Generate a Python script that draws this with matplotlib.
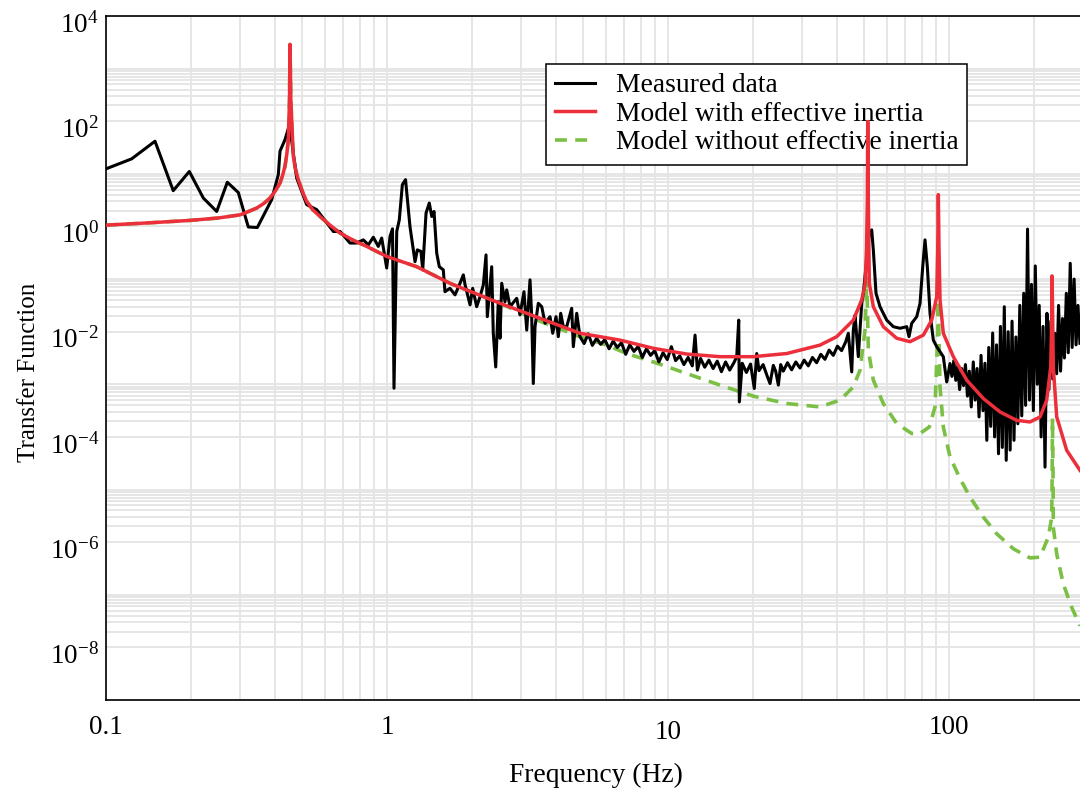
import matplotlib
matplotlib.use("Agg")
import matplotlib.pyplot as plt
import matplotlib.transforms as mtransforms
from matplotlib.ticker import FixedLocator, LogLocator, NullFormatter
import numpy as np

plt.rcParams['font.family'] = ['Liberation Serif', 'DejaVu Serif']
plt.rcParams['mathtext.fontset'] = 'custom'
plt.rcParams['mathtext.rm'] = 'Liberation Serif'
plt.rcParams['mathtext.it'] = 'Liberation Serif:italic'

# Measured transfer function: frequency (Hz) and magnitude (dB, 20*log10)
freq_measured = [
    0.1, 0.1234, 0.1494, 0.1735, 0.1979, 0.2220, 0.2477, 0.2702, 0.2957, 0.3209,
    0.3455, 0.3887, 0.4104, 0.4161, 0.4335, 0.4498, 0.4771, 0.5178, 0.5621, 0.6442,
    0.6805, 0.7385, 0.7800, 0.8236, 0.8581, 0.8939, 0.9311, 0.9575, 0.9975, 1.025,
    1.046, 1.059, 1.083, 1.106, 1.134, 1.164, 1.207, 1.258, 1.282, 1.321,
    1.340, 1.377, 1.414, 1.443, 1.470, 1.503, 1.535, 1.586, 1.608, 1.675,
    1.746, 1.819, 1.869, 1.896, 1.975, 2.018, 2.085, 2.143, 2.202, 2.251,
    2.275, 2.358, 2.389, 2.437, 2.489, 2.524, 2.560, 2.630, 2.667, 2.740,
    2.894, 2.973, 3.072, 3.142, 3.228, 3.273, 3.316, 3.363, 3.455, 3.553,
    3.651, 3.803, 3.888, 3.994, 4.070, 4.151, 4.240, 4.360, 4.542, 4.603,
    4.733, 4.862, 5.03, 5.20, 5.38, 5.57, 5.76, 5.96, 6.17, 6.38,
    6.60, 6.83, 7.07, 7.31, 7.57, 7.83, 8.10, 8.38, 8.67, 8.97,
    9.28, 9.60, 9.94, 10.28, 10.64, 11.01, 11.39, 11.79, 12.20, 12.48,
    12.72, 13.06, 13.51, 13.98, 14.47, 14.97, 15.49, 16.03, 16.58, 17.16,
    17.56, 17.85, 17.94, 18.37, 19.01, 19.67, 20.28, 20.69, 21.07, 21.80,
    22.56, 23.07, 23.70, 24.16, 24.70, 25.18, 25.72, 26.62, 27.54, 28.50,
    29.49, 30.51, 31.57, 32.66, 33.80, 34.97, 36.18, 37.44, 38.74, 40.08,
    41.47, 42.91, 43.82, 45.06, 45.65, 46.30, 47.56, 48.90, 49.55, 50.66,
    52.05, 53.08, 53.78, 54.98, 56.81, 60.02, 63.36, 66.92, 70.71, 72.05,
    73.67, 76.75, 78.86, 80.62, 82.15, 83.72, 85.59, 87.94, 90.41, 95.43,
    98.13, 100.8, 102.4, 104.0, 105.7, 107.4, 109.1, 110.9, 112.6, 114.4,
    116.3, 118.1, 120.0, 122.0, 123.9, 125.9, 127.9, 130.0, 132.1, 134.2,
    136.3, 138.5, 140.7, 143.0, 145.3, 147.6, 150.0, 152.4, 154.8, 157.3,
    159.8, 162.4, 165.0, 167.6, 170.3, 173.0, 175.8, 178.6, 181.5, 184.4,
    187.3, 190.3, 193.4, 196.5, 199.6, 202.8, 206.1, 209.4, 212.7, 216.1,
    219.6, 223.1, 226.7, 230.3, 234.0, 237.8, 241.6, 245.4, 249.4, 253.4,
    257.4, 261.5, 265.7, 270.0, 274.3, 278.7, 283.2, 287.7, 292.3,
]
mag_measured_db = [
    21.9, 25.7, 32.4, 13.6, 20.9, 10.8, 5.7, 16.8, 12.9, -0.2,
    -0.4, 10.2, 19.7, 28.6, 33.0, 38.7, 18.4, 8.3, 6.4, -1.9,
    -1.9, -6.3, -6.3, -5.1, -7.0, -4.1, -7.6, -4.4, -15.8, -3.8,
    -0.9, -61.5, -1.9, 2.5, 15.9, 17.8, 0.0, -13.4, -8.9, -9.5,
    -16.5, 5.1, 8.9, 3.8, 5.7, -10.2, -15.3, -16.5, -24.8, -23.5,
    -26.0, -21.6, -18.4, -22.2, -29.8, -23.5, -30.5, -26.7, -22.2, -10.8,
    -34.3, -15.3, -40.6, -53.4, -28.6, -42.5, -21.6, -28.6, -24.1, -30.5,
    -27.3, -33.6, -24.8, -39.4, -20.3, -34.3, -59.7, -38.1, -29.2, -30.5,
    -36.8, -34.3, -40.6, -34.3, -41.9, -33.0, -38.1, -38.1, -31.1, -45.7,
    -33.0, -41.9, -44.5, -40.8, -45.2, -42.5, -44.8, -43.0, -46.5, -43.6,
    -46.0, -44.2, -48.6, -45.0, -47.5, -45.6, -49.8, -46.5, -49.0, -47.2,
    -51.5, -48.0, -50.6, -45.7, -51.0, -49.2, -52.5, -49.8, -53.0, -41.3,
    -54.6, -50.2, -53.5, -50.8, -54.0, -51.2, -55.2, -51.5, -54.6, -51.8,
    -49.5, -35.6, -66.7, -52.0, -55.5, -52.3, -61.6, -48.3, -54.8, -52.5,
    -57.0, -59.7, -52.8, -55.0, -60.3, -52.5, -55.0, -51.8, -54.5, -51.5,
    -53.8, -50.8, -53.0, -49.8, -51.8, -48.6, -50.5, -47.0, -49.0, -45.5,
    -47.2, -43.8, -40.6, -55.3, -39.4, -33.7, -49.5, -29.2, -25.4, -15.3,
    -2.5, -1.3, -8.9, -25.4, -30.5, -35.6, -38.1, -38.7, -38.1, -41.9,
    -36.8, -34.3, -29.2, -15.3, -5.1, -15.3, -33.0, -43.2, -45.7, -49.5,
    -59.1, -52.1, -57.0, -51.0, -58.5, -53.0, -62.0, -54.0, -60.5, -52.5,
    -64.5, -55.0, -68.6, -51.5, -66.0, -54.0, -72.4, -49.0, -70.0, -52.0,
    -81.3, -46.0, -76.0, -40.5, -80.0, -45.0, -86.4, -38.0, -84.0, -30.5,
    -88.9, -40.0, -85.0, -36.0, -81.3, -42.0, -75.0, -30.0, -72.0, -25.4,
    -68.0, -1.0, -66.0, -22.0, -70.0, -15.0, -60.0, -30.0, -80.0, -38.0,
    -91.5, -33.0, -62.0, -36.0, -58.0, -40.6, -56.0, -30.0, -55.0, -35.0,
    -50.0, -25.4, -48.0, -14.0, -46.0, -20.0, -45.0, -30.0, -44.4,
]

# Model with effective inertia
freq_with = [
    0.1, 0.1434, 0.1990, 0.25, 0.2999, 0.32, 0.3439, 0.365, 0.3833, 0.40,
    0.4161, 0.425, 0.4335, 0.440, 0.4455, 0.4498, 0.4517, 0.4547, 0.4640, 0.473,
    0.4834, 0.50, 0.5178, 0.545, 0.5775, 0.625, 0.6805, 0.76, 0.8470, 0.9975,
    1.276, 1.675, 2.524, 2.815, 3.5, 4.862, 6.750, 8.864, 11.65, 15.31,
    20.12, 26.45, 34.74, 39.85, 45.65, 48.90, 50.25, 50.87, 51.21, 51.37,
    51.62, 52.05, 53.78, 58.37, 65.14, 72.63, 81.02, 86.78, 90.41, 91.16,
    91.61, 92.14, 92.90, 95.43, 103.6, 115.6, 132.5, 151.9, 174.1, 194.2,
    210.8, 222.7, 230.1, 232.0, 232.6, 233.9, 235.0, 241.7, 262.3, 292.5,
]
mag_with_db = [
    0.5, 1.4, 2.3, 3.2, 4.4, 5.6, 7.0, 8.8, 10.8, 13.4,
    16.5, 19.4, 22.9, 27.5, 33.0, 48.3, 69.2, 48.3, 26.7, 21.5,
    17.8, 13.3, 9.5, 6.3, 3.8, 0.6, -2.5, -5.3, -7.6, -11.4,
    -15.3, -21.6, -29.2, -31.1, -34.9, -40.6, -43.2, -46.3, -48.5, -49.5,
    -49.5, -48.3, -45.1, -41.9, -35.6, -27.9, -22.2, -8.9, 10.2, 39.9,
    10.2, -21.6, -30.5, -38.1, -42.5, -43.8, -41.3, -35.6, -26.7, -8.9,
    12.1, -8.9, -27.9, -40.6, -49.5, -58.4, -65.4, -70.5, -73.7, -74.3,
    -72.4, -66.0, -53.4, -35.6, -18.8, -35.6, -53.4, -72.4, -85.1, -92.7,
]

# Model without effective inertia
freq_without = [
    0.1, 0.1434, 0.1990, 0.25, 0.2999, 0.32, 0.3439, 0.365, 0.3833, 0.40,
    0.4161, 0.425, 0.4335, 0.440, 0.4455, 0.4498, 0.4517, 0.4547, 0.4640, 0.473,
    0.4834, 0.50, 0.5178, 0.545, 0.5775, 0.625, 0.6805, 0.76, 0.8470, 0.9975,
    1.276, 1.675, 2.524, 2.815, 3.5, 4.862, 6.053, 7.129, 8.864, 11.65,
    15.31, 20.12, 26.45, 34.74, 40.94, 45.65, 48.23, 50.25, 50.99, 51.62,
    53.78, 58.37, 65.14, 73.67, 78.86, 85.10, 89.18, 91.16, 91.54, 92.90,
    95.43, 100.8, 109.4, 118.8, 132.5, 147.8, 169.3, 194.2, 210.8, 225.6,
    232.0, 232.9, 233.4, 234.5, 235.0, 241.7, 255.1, 273.3, 292.5,
]
mag_without_db = [
    0.5, 1.4, 2.3, 3.2, 4.4, 5.6, 7.0, 8.8, 10.8, 13.4,
    16.5, 19.4, 22.9, 27.5, 33.0, 48.3, 69.2, 48.3, 26.7, 21.5,
    17.8, 13.3, 9.5, 6.3, 3.8, 0.6, -2.5, -5.3, -7.6, -11.4,
    -15.3, -21.6, -29.2, -31.5, -36.0, -41.9, -45.1, -48.3, -51.5, -55.9,
    -60.3, -64.5, -67.3, -68.6, -66.0, -61.0, -54.6, -39.4, -19.6, -47.0,
    -58.4, -67.3, -74.9, -78.7, -78.7, -76.2, -68.6, -40.6, -27.9, -61.0,
    -76.2, -87.6, -95.8, -102.9, -110.5, -116.8, -122.5, -126.0, -125.7, -118.1,
    -110.5, -92.7, -72.9, -92.7, -114.3, -124.5, -135.9, -144.8, -151.8,
]

xtick_vals = [0.1, 1, 10, 100]
xtick_labels = ['0.1', '1', '10', '100']
ytick_exps = [-8, -6, -4, -2, 0, 2, 4]


def db_to_mag(db):
    return 10 ** (np.array(db) / 20.0)


fig = plt.figure(figsize=(10.8, 7.94), dpi=100)
ax = fig.add_axes([106 / 1080, 94 / 794, 974 / 1080, 684 / 794])

ax.plot(freq_measured, db_to_mag(mag_measured_db), color='black', lw=2.2,
        label='Measured data', zorder=3)
ax.plot(freq_with, db_to_mag(mag_with_db), color='#ec2f3b', lw=2.5,
        label='Model with effective inertia', zorder=4)
ax.plot(freq_without, db_to_mag(mag_without_db), color='#7cbf45', lw=2.6,
        dashes=(3.3, 2.3), label='Model without effective inertia', zorder=2.5)

ax.set_xscale('log')
ax.set_yscale('log')
ax.set_xlim(0.1, 292.5)
ax.set_ylim(1e-9, 1e4)

ax.set_xticks(xtick_vals, xtick_labels)
ax.xaxis.set_minor_locator(LogLocator(base=10, subs=range(2, 10)))
ax.xaxis.set_minor_formatter(NullFormatter())
ax.set_yticks([10.0 ** e for e in ytick_exps],
              [r'$\mathregular{10^{%d}}$' % e for e in ytick_exps])
ax.yaxis.set_minor_locator(FixedLocator(
    [k * 10.0 ** e for e in range(-10, 5, 2) for k in range(2, 11)]))
ax.yaxis.set_minor_formatter(NullFormatter())
ax.tick_params(which='both', length=0, labelsize=19.5)
ax.tick_params(axis='x', pad=11)
ax.tick_params(axis='y', pad=5)

ax.grid(True, which='both', color='#e4e4e4', lw=1.3)
ax.set_axisbelow(True)

for side in ['left', 'bottom', 'top']:
    ax.spines[side].set_linewidth(1.2)
    ax.spines[side].set_color('black')
ax.spines['right'].set_visible(False)

ax.set_xlabel('Frequency (Hz)', fontsize=19.8)
ax.xaxis.set_label_coords(0.503, -0.092)
ax.set_ylabel('Transfer Function', fontsize=18)
ax.yaxis.set_label_coords(-0.068, 0.479)

# small label offsets as in the original
for lbl in ax.get_yticklabels():
    lbl.set_transform(lbl.get_transform() +
                      mtransforms.ScaledTranslation(0, -0.06, fig.dpi_scale_trans))
for lbl in ax.get_xticklabels():
    if lbl.get_text() == '10':
        lbl.set_transform(lbl.get_transform() +
                          mtransforms.ScaledTranslation(0, -0.05, fig.dpi_scale_trans))

leg = ax.legend(loc='upper left', bbox_to_anchor=(0.4517, 0.9298),
                borderaxespad=0, fontsize=19.8, frameon=True, fancybox=False,
                framealpha=1, edgecolor='black', handlelength=1.45,
                handletextpad=0.75, labelspacing=0.12, borderpad=0.33)
leg.get_frame().set_linewidth(1.1)
leg.set_zorder(3.5)

fig.savefig('out.png', dpi=100)
